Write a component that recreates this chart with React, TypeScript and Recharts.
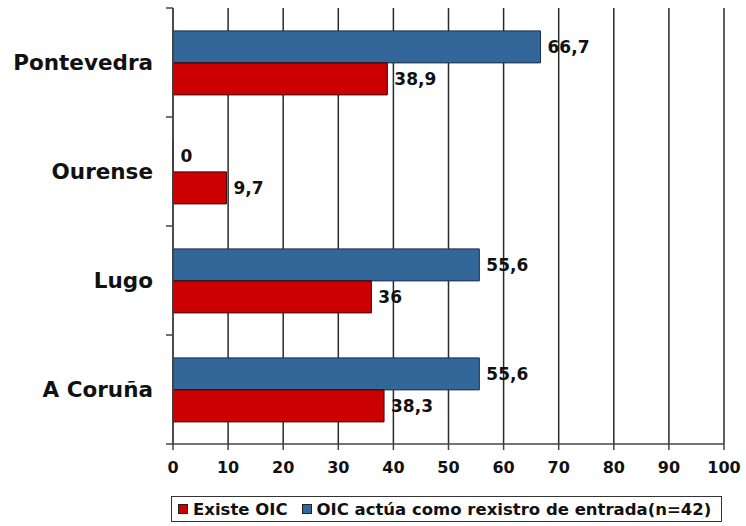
import React from "react";
import { BarChart, Bar, XAxis, YAxis, CartesianGrid, LabelList } from "recharts";

// categories top to bottom
const provinces = ["Pontevedra", "Ourense", "Lugo", "A Coruña"];
const rexistroValues = [66.7, 0, 55.6, 55.6];
const existeValues = [38.9, 9.7, 36, 38.3];
const xTicks = [0, 10, 20, 30, 40, 50, 60, 70, 80, 90, 100];

const seriesInfo = [
  { key: "existe", name: "Existe OIC", color: "#cc0000" },
  { key: "rexistro", name: "OIC actúa como rexistro de entrada(n=42)", color: "#336699" },
];

const chartData = provinces.map((p, i) => ({
  province: p,
  rexistro: rexistroValues[i],
  existe: existeValues[i],
}));

const FONT = "'DejaVu Sans', Verdana, sans-serif";
const LABEL_GAP = 20;
const TICK_LEN = 7;
const formatValue = (v: any) => String(v).replace(".", ",");

// category label plus tick marks on the band boundaries (like the original)
const ProvinceTick = (props: any) => {
  const { x, y, payload, index, visibleTicksCount } = props;
  const half = payload.offset || 0;
  const axisX = x + LABEL_GAP;
  const isLast = index === visibleTicksCount - 1;
  return (
    <g>
      <line x1={axisX - TICK_LEN} x2={axisX} y1={y - half} y2={y - half} stroke="#444" strokeWidth={1.5} />
      {isLast && (
        <line x1={axisX - TICK_LEN} x2={axisX} y1={y + half} y2={y + half} stroke="#444" strokeWidth={1.5} />
      )}
      <text
        x={x}
        y={y}
        dy="0.36em"
        textAnchor="end"
        fill="#111"
        fontSize={21.5}
        fontWeight="bold"
        fontFamily={FONT}
      >
        {payload.value}
      </text>
    </g>
  );
};

export default function App() {
  return (
    <div style={{ position: "absolute", left: 0, top: 0, width: 746, height: 526, background: "#fff", fontFamily: FONT }}>
      <BarChart
        width={746}
        height={526}
        data={chartData}
        layout="vertical"
        margin={{ top: 8, right: 22, bottom: 0, left: 0 }}
        barCategoryGap="21%"
        barGap={0}
      >
        <CartesianGrid horizontal={false} vertical stroke="#2a2a2a" strokeWidth={1.5} />
        <XAxis
          type="number"
          domain={[0, 100]}
          ticks={xTicks}
          height={82}
          stroke="#444"
          strokeWidth={1.5}
          tickSize={6}
          tickMargin={12}
          tick={{ fill: "#111", fontSize: 16, fontWeight: "bold", fontFamily: FONT }}
        />
        <XAxis
          xAxisId="top"
          orientation="top"
          type="number"
          domain={[0, 100]}
          height={0}
          tick={false}
          tickLine={false}
          stroke="#777"
          strokeWidth={1.5}
        />
        <YAxis
          type="category"
          dataKey="province"
          width={173}
          stroke="#444"
          strokeWidth={1.5}
          tickLine={false}
          tickSize={0}
          tickMargin={LABEL_GAP}
          tick={ProvinceTick}
        />
        <Bar
          dataKey="rexistro"
          name={seriesInfo[1].name}
          fill={seriesInfo[1].color}
          stroke="#1c2f4a"
          strokeWidth={1}
          minPointSize={0.5}
          isAnimationActive={false}
        >
          <LabelList
            dataKey="rexistro"
            position="right"
            offset={7}
            formatter={formatValue}
            style={{ fill: "#111", fontSize: 17, fontWeight: "bold", fontFamily: FONT }}
          />
        </Bar>
        <Bar dataKey="existe" name={seriesInfo[0].name} fill={seriesInfo[0].color} stroke="#3a0000" strokeWidth={1} isAnimationActive={false}>
          <LabelList
            dataKey="existe"
            position="right"
            offset={7}
            formatter={formatValue}
            style={{ fill: "#111", fontSize: 17, fontWeight: "bold", fontFamily: FONT }}
          />
        </Bar>
      </BarChart>
      <div
        style={{
          position: "absolute",
          left: 171,
          top: 496,
          width: 551,
          height: 26,
          border: "1.5px solid #333",
          display: "flex",
          alignItems: "center",
          paddingLeft: 6,
          boxSizing: "border-box",
          fontSize: 16.5,
          fontWeight: "bold",
          color: "#111",
          whiteSpace: "nowrap",
        }}
      >
        {seriesInfo.map((s, i) => (
          <div key={s.key} style={{ display: "flex", alignItems: "center", marginRight: i === 0 ? 14 : 0 }}>
            <span
              style={{
                display: "inline-block",
                width: 10,
                height: 10,
                boxSizing: "border-box",
                background: s.color,
                border: "1px solid #222",
                marginRight: 5,
              }}
            />
            <span>{s.name}</span>
          </div>
        ))}
      </div>
    </div>
  );
}
